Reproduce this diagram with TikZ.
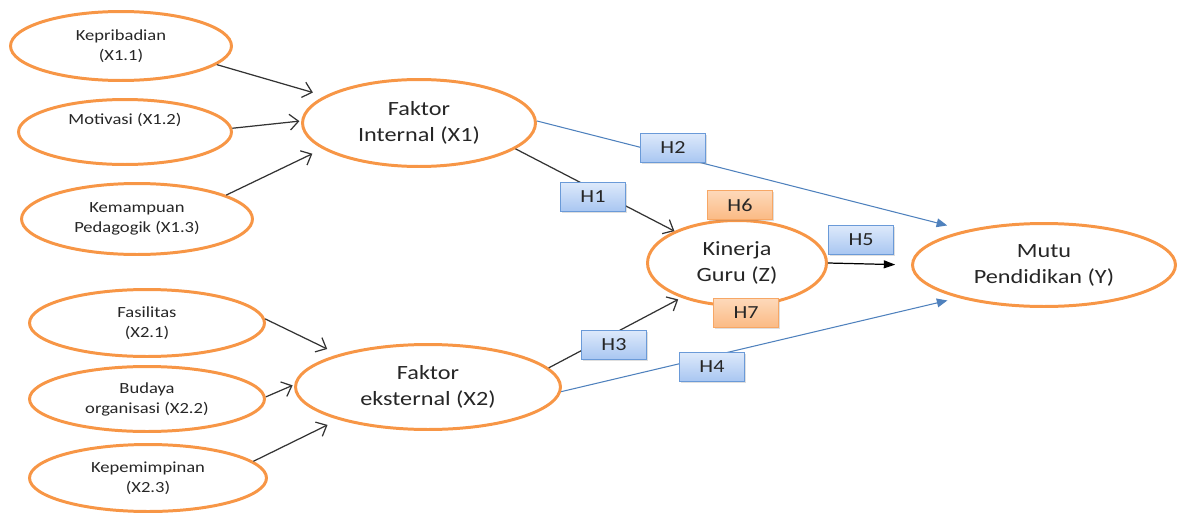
\documentclass[tikz,border=0pt]{standalone}
\usepackage{fontspec}
\setmainfont{Carlito}[FakeStretch=1.2]
\usetikzlibrary{shapes.geometric,arrows.meta,shadows}
\definecolor{ovalorange}{HTML}{F79646}
\definecolor{linkblue}{HTML}{4F81BD}
\definecolor{boxblueA}{HTML}{DDE9FB}
\definecolor{boxblueB}{HTML}{A8C6F1}
\definecolor{boxblueline}{HTML}{6A9AD8}
\definecolor{boxorangeA}{HTML}{FDD9BA}
\definecolor{boxorangeB}{HTML}{FBBA84}
\definecolor{boxorangeline}{HTML}{F7A765}

\begin{document}
\begin{tikzpicture}[x=0.02cm,y=-0.02cm,
  oval/.style={ellipse,draw=ovalorange,line width=1.7pt,inner sep=0pt,align=center,text=black!85},
  small/.style={font=\fontsize{8.8}{11.4}\selectfont},
  big/.style={font=\fontsize{11.5}{14.8}\selectfont},
  hbox/.style={rectangle,draw=boxblueline,line width=0.6pt,top color=boxblueA,bottom color=boxblueB,
    minimum width=1.3cm,minimum height=0.58cm,inner sep=0pt,text=black!85,
    font=\fontsize{10.5}{12}\selectfont,
    drop shadow={shadow xshift=0.8pt,shadow yshift=-0.8pt,opacity=0.25}},
  hboxo/.style={hbox,draw=boxorangeline,top color=boxorangeA,bottom color=boxorangeB},
  feed/.style={draw=black!80,line width=0.7pt,-{Straight Barb[length=5pt,width=9pt]}},
  link/.style={draw=linkblue,line width=0.6pt,-{Triangle[length=6pt,width=5pt]}},
  main/.style={draw=black,line width=0.7pt,-{Triangle[length=6.5pt,width=4.5pt]}}]
  \useasboundingbox (0,0) rectangle (1184,514);

  % indicators of the internal factor
  \node[oval,small,minimum width=4.42cm,minimum height=1.38cm] (kep) at (121,46) {Kepribadian\\(X1.1)};
  \node[oval,small,minimum width=4.26cm,minimum height=1.30cm] (mot) at (125,132) {Motivasi (X1.2)\\\strut};
  \node[oval,small,minimum width=4.62cm,minimum height=1.42cm] (ped) at (137,219) {Kemampuan\\Pedagogik (X1.3)};

  % indicators of the external factor
  \node[oval,small,minimum width=4.70cm,minimum height=1.34cm] (fas) at (147,323) {Fasilitas\\(X2.1)};
  \node[oval,small,minimum width=4.70cm,minimum height=1.30cm] (bud) at (147,399) {Budaya\\organisasi (X2.2)};
  \node[oval,small,minimum width=4.74cm,minimum height=1.34cm] (pim) at (148,478) {Kepemimpinan\\(X2.3)};

  % latent variables
  \node[oval,big,minimum width=4.66cm,minimum height=1.74cm] (xin) at (419,123) {Faktor\\Internal (X1)};
  \node[oval,big,minimum width=5.30cm,minimum height=1.70cm] (xek) at (428,387) {Faktor\\eksternal (X2)};
  \node[oval,big,minimum width=3.58cm,minimum height=1.70cm] (guru) at (737,263) {Kinerja\\Guru (Z)};
  \node[oval,big,minimum width=5.26cm,minimum height=1.66cm] (mutu) at (1044,265) {Mutu\\Pendidikan (Y)};

  % indicator arrows
  \draw[feed,shorten >=7pt] (kep.-11) -- (xin.164);
  \draw[feed,shorten >=1pt] (mot.2) -- (xin.179);
  \draw[feed,shorten >=6.4pt] (ped.15) -- (xin.195);
  \draw[feed,shorten >=7pt] (fas.2) -- (xek.160);
  \draw[feed,shorten >=1pt] (bud.1) -- (xek.179);
  \draw[feed,shorten >=6.8pt] (pim.9) -- (xek.200);

  % structural paths
  \draw[feed] (xin.-15) -- (guru.153);
  \draw[feed,shorten >=2pt] (xek.9) -- (guru.212);
  \draw[link,shorten >=11pt] (xin.1.5) -- (mutu.156);
  \draw[link,shorten >=6.4pt] (xek.-2) -- (mutu.201);
  \draw[main,shorten >=9pt] (guru.east) -- (mutu.west);

  % hypothesis labels
  \node[hbox] (h1) at (593,197) {H1};
  \node[hbox] (h2) at (673,148) {H2};
  \node[hbox] (h3) at (614,345) {H3};
  \node[hbox] (h4) at (712,367) {H4};
  \node[hbox] (h5) at (861,240) {H5};
  \node[hboxo] (h6) at (740,205) {H6};
  \node[hboxo] (h7) at (746,313) {H7};
\end{tikzpicture}
\end{document}
